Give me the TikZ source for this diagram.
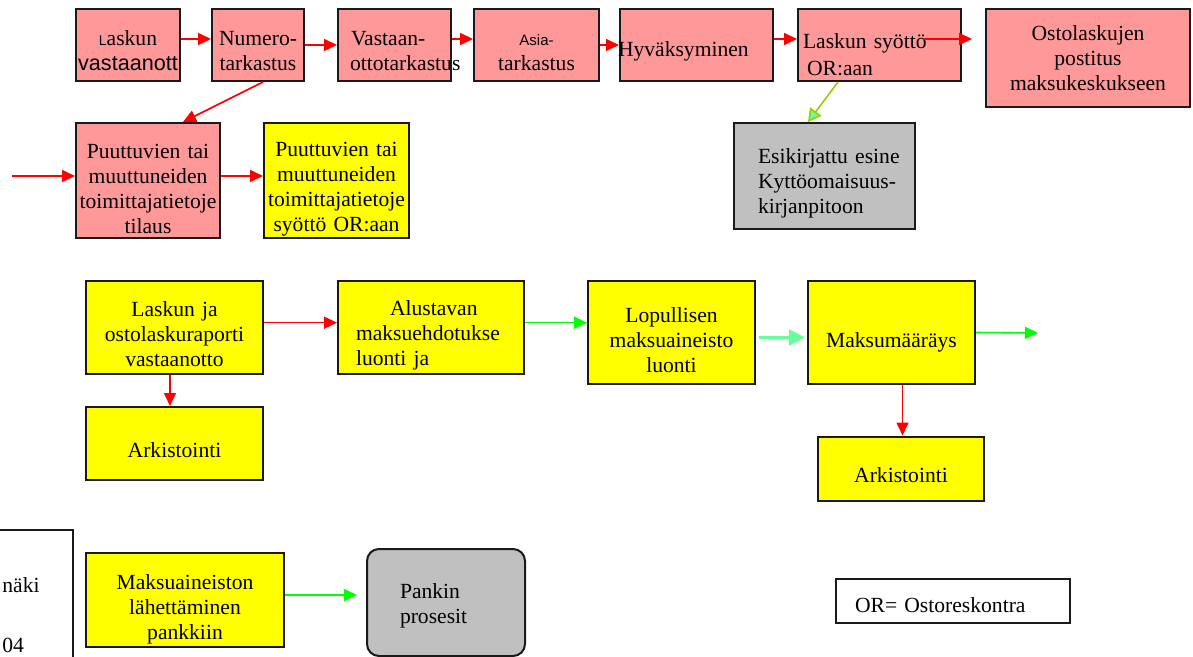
\documentclass[tikz,border=0pt]{standalone}
\usepackage{fontspec}
\setmainfont{Liberation Serif}
\setsansfont{Liberation Sans}
\usetikzlibrary{arrows.meta}
\definecolor{pinkfill}{HTML}{FF9999}
\definecolor{yellowfill}{HTML}{FFFF00}
\definecolor{grayfill}{HTML}{C0C0C0}
\definecolor{redline}{HTML}{FF0000}
\definecolor{greenline}{HTML}{00FF00}
\definecolor{mintline}{HTML}{66FF99}
\definecolor{oliveline}{HTML}{99CC00}
\definecolor{edge}{HTML}{1A1A1A}

\tikzset{
  box/.style={draw=edge, line width=1pt, inner sep=0pt, align=center, font=\fontsize{10.8}{12.5}\selectfont},
  pinkbox/.style={box, fill=pinkfill},
  yellowbox/.style={box, fill=yellowfill},
  graybox/.style={box, fill=grayfill},
  texttop/.style={text height=#1},
  redarrow/.style={draw=redline, line width=0.8pt, -{Triangle[length=6.5pt,width=6pt]}},
  greenarrow/.style={draw=greenline, line width=0.8pt, -{Triangle[length=6.5pt,width=6pt]}},
  mintarrow/.style={draw=mintline, line width=1.2pt, -{Triangle[length=8pt,width=8pt]}},
  olivearrow/.style={draw=oliveline, line width=0.8pt, -{Triangle[length=6.5pt,width=7pt,fill=mintline]}},
}

\begin{document}
\begin{tikzpicture}[x=0.5pt,y=-0.5pt]
    \useasboundingbox (0,0) rectangle (1193,657);
    \clip (0,0) rectangle (1193,657);
    % laskun tarkastus
    \node[pinkbox, text width=52pt, minimum height=36pt, texttop=12.7pt] (lasvas) at (128,45) {{\sffamily\fontsize{7}{8}\selectfont L}askun\\{\sffamily vastaanott}};
    \node[pinkbox, text width=46pt, minimum height=36pt, texttop=12.7pt] (numero) at (258,45) {Numero-\\tarkastus};
    \node[pinkbox, text width=56.5pt, minimum height=36pt, align=left, texttop=12.7pt] (vastaan) at (394.5,45) {\hspace*{6.5pt}Vastaan-\\\hspace*{6pt}\mbox{ottotarkastus}};
    \node[pinkbox, text width=62.5pt, minimum height=36pt, texttop=12.9pt] (asia) at (536.5,45) {{\sffamily\fontsize{7.5}{9}\selectfont Asia-}\\tarkastus};
    \node[pinkbox, text width=76.5pt, minimum height=36pt, align=left, texttop=14.2pt] (hyv) at (696.5,45) {\hspace*{-1pt}Hyväksyminen};
    \node[pinkbox, text width=81.5pt, minimum height=36pt, align=left, texttop=16.7pt] (syotto) at (879.5,45) {\hspace*{2.5pt}Laskun syöttö\\[1pt]\hspace*{4.5pt}OR:aan};
    \node[pinkbox, text width=102pt, minimum height=49pt] (posti) at (1088,58) {Ostolaskujen\\postitus\\maksukeskukseen};
    \node[pinkbox, text width=72pt, minimum height=57.5pt, texttop=15.7pt] (puutil) at (148,180.5) {Puuttuvien tai\\muuttuneiden\\toimittajatietoje\\tilaus};
    \node[yellowbox, text width=72.5pt, minimum height=57.5pt, texttop=16.2pt] (puusyo) at (336.5,180.5) {Puuttuvien tai\\muuttuneiden\\toimittajatietoje\\syöttö OR:aan};
    \node[graybox, text width=90.5pt, minimum height=53pt, align=left, texttop=14.7pt] (esik) at (824.5,176) {\hspace*{12pt}Esikirjattu esine\\\hspace*{12pt}Kyttöomaisuus-\\\hspace*{12pt}kirjanpitoon};
    % maksatus
    \node[yellowbox, text width=88.5pt, minimum height=46.5pt, texttop=14.2pt] (laskja) at (174.5,327.5) {Laskun ja\\ostolaskuraporti\\vastaanotto};
    \node[yellowbox, text width=88.5pt, minimum height=36.5pt, texttop=14.2pt] (arkis1) at (174.5,443.5) {Arkistointi};
    \node[yellowbox, text width=93pt, minimum height=46.5pt, align=left, texttop=15.7pt] (alust) at (431,327.5) {\hspace*{26pt}Alustavan\\\hspace*{9pt}maksuehdotukse\\\hspace*{9pt}luonti ja};
    \node[yellowbox, text width=83.5pt, minimum height=51.5pt, texttop=15.2pt] (lopul) at (671.5,332.5) {Lopullisen\\maksuaineisto\\luonti};
    \node[yellowbox, text width=83.5pt, minimum height=51.5pt, texttop=17.2pt] (maksu) at (891.5,332.5) {Maksumääräys};
    \node[yellowbox, text width=83pt, minimum height=32pt, texttop=14.2pt] (arkis2) at (901,468.5) {Arkistointi};
    \node[yellowbox, text width=99pt, minimum height=47pt, texttop=16.7pt] (maksua) at (185,600) {Maksuaineiston\\lähettäminen\\pankkiin};
    \node[graybox, text width=79pt, minimum height=53.5pt, rounded corners=6pt, align=left, texttop=11.2pt] (pankki) at (446,602.5) {\hspace*{16.5pt}Pankin\\\hspace*{16.5pt}prosesit};
    \node[box, text width=117pt, minimum height=22pt, align=left, texttop=11.2pt] (orselite) at (953,601) {\hspace*{9.5pt}OR= Ostoreskontra};
    \node[box, text width=51.5pt, minimum height=80pt] (tekija) at (21.5,610) {};
    \node[anchor=base west, inner sep=0pt, font=\fontsize{10.8}{12.5}\selectfont] (tekija1) at (2,592) {näki};
    \node[anchor=base west, inner sep=0pt, font=\fontsize{10.8}{12.5}\selectfont] (tekija2) at (2,652) {04};
    \coordinate (sisaan) at (12,176);
    \coordinate (ulos) at (1038,333);
    % nuolet
    \draw[redarrow] ([yshift=3pt]lasvas.east) -- ([yshift=3pt]numero.west);
    \draw[redarrow] (numero.east) -- (vastaan.west);
    \draw[redarrow] ([yshift=3pt]vastaan.east) -- ([yshift=3pt]asia.west);
    \draw[redarrow] (asia.east) -- (hyv.west);
    \draw[redarrow] ([yshift=3pt]hyv.east) -- ([yshift=3pt]syotto.west);
    \draw[redarrow, shorten >=6.5pt] ([xshift=-19.5pt,yshift=3pt]syotto.east) -- ([yshift=3pt]syotto.east -| posti.west);
    \draw[redarrow] ([xshift=2.5pt]numero.south) -- ([xshift=17.5pt]puutil.north);
    \draw[redarrow] (sisaan) -- (sisaan -| puutil.west);
    \draw[redarrow] (sisaan -| puutil.east) -- (sisaan -| puusyo.west);
    \draw[olivearrow] ([xshift=-20.75pt]syotto.south) -- ([xshift=-8.25pt]esik.north);
    \draw[redarrow] ([yshift=2.4pt]laskja.east) -- ([yshift=2.4pt]alust.west);
    \draw[redarrow] ([xshift=-2.25pt]laskja.south) -- ([xshift=-2.25pt]arkis1.north);
    \draw[greenarrow] ([yshift=2.4pt]alust.east) -- ([yshift=2.4pt]alust.east -| lopul.west);
    \draw[mintarrow, shorten <=1.5pt, shorten >=1pt] ([yshift=-2.5pt]lopul.east) -- ([yshift=-2.5pt]maksu.west);
    \draw[greenarrow] (maksu.east) -- (ulos);
    \draw[redarrow] ([xshift=5.5pt]maksu.south) -- ([xshift=5.5pt]maksu.south |- arkis2.north);
    \draw[greenarrow, shorten >=4.5pt] ([yshift=2.5pt]maksua.east) -- ([yshift=2.5pt]maksua.east -| pankki.west);
\end{tikzpicture}
\end{document}
